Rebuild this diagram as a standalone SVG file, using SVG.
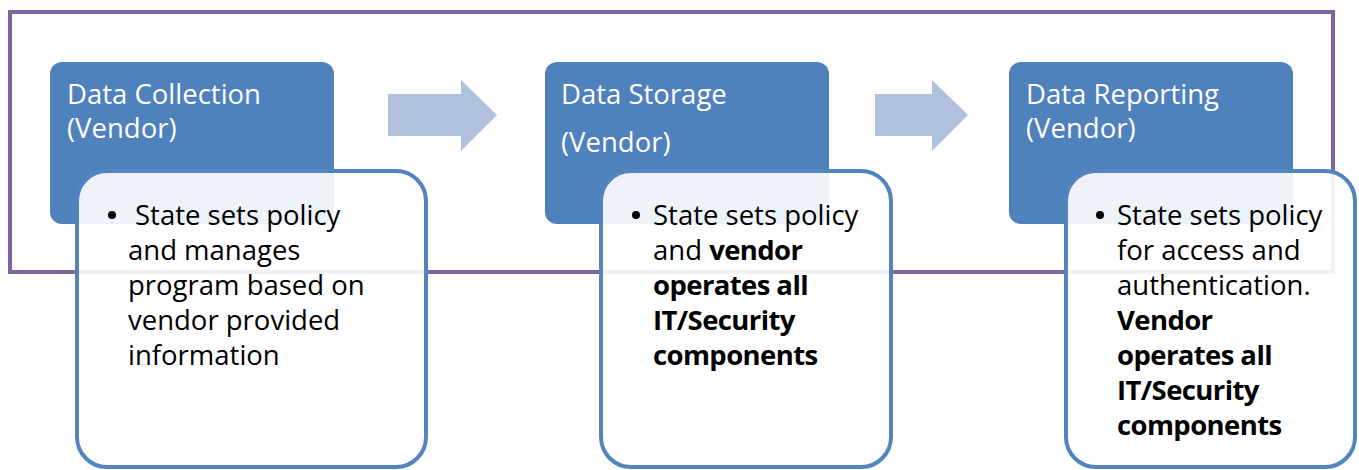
<svg xmlns="http://www.w3.org/2000/svg" width="1359" height="470" viewBox="0 0 1359 470">
<style>
.frame{fill:none;stroke:#8064A2;stroke-width:4}
.head{fill:#4F81BD}
.arrow{fill:#B0C1DD}
.card{fill:#FFFFFF;fill-opacity:0.9;stroke:#5384C0;stroke-width:4}
.ht{font-family:"Open Sans","Noto Sans",sans-serif;font-size:27.5px;fill:#FFFFFF}
.bt{font-family:"Open Sans","Noto Sans",sans-serif;font-size:27.5px;fill:#000000}
.b{font-weight:bold;letter-spacing:-0.6px}
</style>
<rect class="frame" x="10" y="12" width="1323" height="260"/>
<g id="node-collection-head">
<rect class="head" x="50" y="62" width="284" height="162" rx="12"/>
<text class="ht" x="67" y="104">Data Collection</text>
<text class="ht" x="67" y="138">(Vendor)</text>
</g>
<g id="node-storage-head">
<rect class="head" x="545" y="62" width="284" height="162" rx="12"/>
<text class="ht" x="561" y="104">Data Storage</text>
<text class="ht" x="561" y="152">(Vendor)</text>
</g>
<g id="node-reporting-head">
<rect class="head" x="1009" y="62" width="284" height="162" rx="12"/>
<text class="ht" x="1026" y="104">Data Reporting</text>
<text class="ht" x="1026" y="138">(Vendor)</text>
</g>
<g id="connectors">
<polygon class="arrow" points="388,94 461,94 461,80 497,115 461,151 461,136 388,136"/>
<polygon class="arrow" points="875,94 932,94 932,80 968,115 932,151 932,136 875,136"/>
</g>
<g id="node-collection-body">
<rect class="card" x="77" y="171" width="349" height="296" rx="30"/>
<circle cx="112" cy="215" r="4"/>
<text class="bt" x="135" y="225">State sets policy</text>
<text class="bt" x="128" y="260">and manages</text>
<text class="bt" x="128" y="295">program based on</text>
<text class="bt" x="128" y="330">vendor provided</text>
<text class="bt" x="128" y="365">information</text>
</g>
<g id="node-storage-body">
<rect class="card" x="601" y="171" width="290" height="296" rx="30"/>
<circle cx="636" cy="215" r="4"/>
<text class="bt" x="653" y="225">State sets policy</text>
<text class="bt" x="653" y="260">and <tspan class="b">vendor</tspan></text>
<text class="bt b" x="653" y="295">operates all</text>
<text class="bt b" x="653" y="330">IT/Security</text>
<text class="bt b" x="653" y="365">components</text>
</g>
<g id="node-reporting-body">
<rect class="card" x="1066" y="171" width="289" height="296" rx="30"/>
<circle cx="1100" cy="215" r="4"/>
<text class="bt" x="1117" y="225">State sets policy</text>
<text class="bt" x="1117" y="260">for access and</text>
<text class="bt" x="1117" y="295">authentication.</text>
<text class="bt b" x="1117" y="330">Vendor</text>
<text class="bt b" x="1117" y="365">operates all</text>
<text class="bt b" x="1117" y="400">IT/Security</text>
<text class="bt b" x="1117" y="435">components</text>
</g>
</svg>
